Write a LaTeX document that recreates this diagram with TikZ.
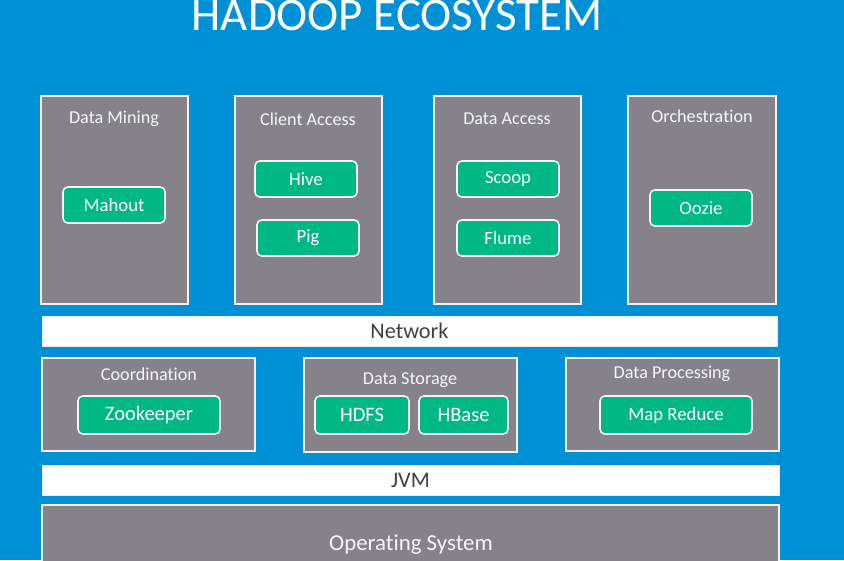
\documentclass[tikz,border=0pt]{standalone}
\usepackage{fontspec}
\setmainfont[Ligatures=NoCommon]{Carlito}
\usetikzlibrary{fit}
\definecolor{bgblue}{RGB}{0,144,214}
\definecolor{panelgray}{RGB}{133,131,137}
\definecolor{toolgreen}{RGB}{0,184,132}
\begin{document}
\begin{tikzpicture}[x=0.03cm,y=-0.03cm,
    panel/.style={draw=white!90!gray, line width=1.2pt, fill=panelgray, inner sep=0pt},
    bar/.style={draw=white!85!gray, line width=0.8pt, fill=white, inner sep=0pt,
      label={[text=black!75, font=\fontsize{19}{22}\selectfont]center:#1}},
    tool/.style={draw=white!92!gray, line width=1.3pt, fill=toolgreen, rounded corners=4pt,
      inner sep=0pt, label={[text=white, font=\fontsize{16}{18}\selectfont]center:#1}},
    bigtool/.style={tool={}, label={[text=white, font=\fontsize{17.5}{20}\selectfont]center:#1}},
    head/.style={text=white!92!gray, font=\fontsize{15.5}{18}\selectfont}]

\useasboundingbox (0,0) rectangle (844,560);
\fill[bgblue] (0,0) rectangle (844,560);

\node[text=white, font=\fontsize{40}{44}\selectfont, anchor=base] (title) at (397,31) {HADOOP ECOSYSTEM};

	\node[panel, fit={(41,96) (188,304)}] (mining) {};
	\node[panel, fit={(235,96) (382,304)}] (client) {};
	\node[panel, fit={(434,96) (581,304)}] (access) {};
	\node[panel, fit={(628,96) (776,304)}] (orch) {};
	\node[head] (mininghead) at (114,119) {Data Mining};
	\node[head] (clienthead) at (308,119) {Client Access};
	\node[head] (accesshead) at (507,119) {Data Access};
	\node[head] (orchhead) at (702,116) {Orchestration};
	\node[tool=Mahout, fit={(63,187) (165,223)}] (mahout) {};
	\node[tool=Hive, fit={(255,161) (357,197)}] (hive) {};
	\node[tool=Pig, fit={(257,220) (359,256)}] (pig) {};
	\node[tool=Scoop, fit={(457,161) (559,197)}] (scoop) {};
	\node[tool=Flume, fit={(457,220) (559,256)}] (flume) {};
	\node[tool=Oozie, fit={(650,190) (752,226)}] (oozie) {};

	\node[bar=Network, fit={(42,316) (777,346)}] (network) {};

	\node[panel, fit={(42,358) (255,451)}] (coord) {};
	\node[panel, fit={(304,358) (517,452)}] (storage) {};
	\node[panel, fit={(566,358) (779,451)}] (process) {};
	\node[head] (coordhead) at (149,374) {Coordination};
	\node[head] (storagehead) at (410,380) {Data Storage};
	\node[head] (processhead) at (672,374) {Data Processing};
	\node[bigtool=Zookeeper, fit={(78,396) (220,434)}] (zookeeper) {};
	\node[bigtool=HDFS, fit={(315,396) (409,434)}] (hdfs) {};
	\node[bigtool=HBase, fit={(419,396) (508,434)}] (hbase) {};
	\node[tool=Map Reduce, fit={(600,396) (752,434)}] (mapreduce) {};

	\node[bar=JVM, fit={(42,465) (779,495)}] (jvm) {};

	\node[panel, fit={(42,505) (779,575)}] (os) {};
	\node[text=white!92!gray, font=\fontsize{19.5}{22}\selectfont] (oshead) at (411,545) {Operating System};

\end{tikzpicture}
\end{document}
